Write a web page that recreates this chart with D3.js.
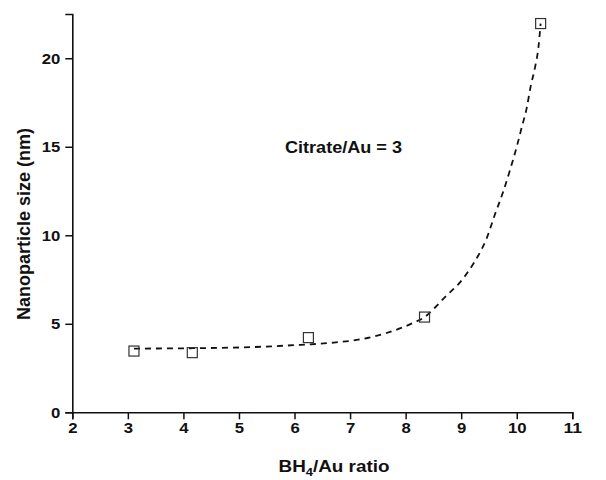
<!DOCTYPE html>
<html>
<head>
<meta charset="utf-8">
<script src="https://cdn.jsdelivr.net/npm/d3@7"></script>
<style>
  body { margin: 0; background: #fff; }
  text { font-family: "Liberation Sans", Arial, sans-serif; font-weight: bold; fill: #111; }
</style>
</head>
<body>
<script>
// measured points
var ratio = [3.11, 4.16, 6.25, 8.34, 10.43];
var size = [3.46, 3.37, 4.22, 5.38, 21.96];

// dashed fit curve
var fitX = [3.11, 4.16, 5.2, 5.98, 6.64, 7.18, 7.66, 8.17, 8.33, 8.53, 8.74, 8.97, 9.15, 9.31, 9.45,
            9.61, 9.76, 9.88, 10.0, 10.09, 10.18, 10.25, 10.33, 10.39, 10.43];
var fitY = [3.6, 3.62, 3.68, 3.79, 3.92, 4.12, 4.48, 5.1, 5.35, 5.92, 6.61, 7.31, 8.06, 8.87, 9.76,
            11.2, 12.5, 13.7, 15.0, 16.1, 17.2, 18.4, 19.5, 20.6, 21.96];

var xTicks = [2, 3, 4, 5, 6, 7, 8, 9, 10, 11];
var xMinor = [2.5, 3.5, 4.5, 5.5, 6.5, 7.5, 8.5, 9.5, 10.5];
var yTicks = [0, 5, 10, 15, 20];
var yMinor = [2.5, 7.5, 12.5, 17.5];

var svg = d3.select("body").append("svg")
    .attr("width", 606)
    .attr("height", 480);

var x = d3.scaleLinear().domain([2, 11]).range([72.3, 572.3]);
var y = d3.scaleLinear().domain([0, 22.5]).range([412.3, 14]);

// x axis
var gx = svg.append("g")
    .attr("transform", "translate(0," + y(0) + ")");
gx.call(d3.axisBottom(x).tickValues(xMinor).tickSize(4).tickFormat(""));
gx.call(d3.axisBottom(x).tickValues(xTicks).tickSize(7).tickPadding(3).tickFormat(d3.format("d")));
gx.selectAll("path.domain").attr("stroke-width", 1.6).attr("stroke", "#111");
gx.selectAll(".tick line").attr("stroke-width", 1.5).attr("stroke", "#111");
gx.selectAll(".tick text")
    .attr("font-size", 15)
    .attr("textLength", function(d) { return String(d).length * 9.3; })
    .attr("lengthAdjust", "spacingAndGlyphs");

// y axis
var gy = svg.append("g")
    .attr("transform", "translate(" + x(2) + ",0)");
gy.call(d3.axisLeft(y).tickValues(yMinor).tickSize(4).tickFormat(""));
gy.call(d3.axisLeft(y).tickValues(yTicks).tickSize(7).tickPadding(5).tickFormat(d3.format("d")));
gy.selectAll("path.domain").attr("stroke-width", 1.6).attr("stroke", "#111");
gy.selectAll(".tick line").attr("stroke-width", 1.5).attr("stroke", "#111");
gy.selectAll(".tick text")
    .attr("font-size", 15)
    .attr("textLength", function(d) { return String(d).length * 9.3; })
    .attr("lengthAdjust", "spacingAndGlyphs");
svg.selectAll(".domain").attr("fill", "none");

// fit curve
var line = d3.line()
    .x(function(d) { return x(fitX[d]); })
    .y(function(d) { return y(fitY[d]); })
    .curve(d3.curveMonotoneX);

svg.append("path")
    .attr("d", line(d3.range(fitX.length)))
    .attr("fill", "none")
    .attr("stroke", "#111")
    .attr("stroke-width", 1.8)
    .attr("stroke-dasharray", "6,5");

// square markers
svg.selectAll("rect.pt")
    .data(d3.range(ratio.length))
    .enter()
    .append("rect")
        .attr("class", "pt")
        .attr("x", function(d) { return x(ratio[d]) - 5; })
        .attr("y", function(d) { return y(size[d]) - 5; })
        .attr("width", 10)
        .attr("height", 10)
        .attr("fill", "none")
        .attr("stroke", "#333")
        .attr("stroke-width", 1.2);

// annotation
svg.append("text")
    .attr("x", 285)
    .attr("y", 153)
    .attr("font-size", 16)
    .attr("textLength", 117)
    .attr("lengthAdjust", "spacingAndGlyphs")
    .text("Citrate/Au = 3");

// x title with subscript
var xt = svg.append("text")
    .attr("transform", "translate(334,472) scale(1.18,1)")
    .attr("text-anchor", "middle")
    .attr("font-size", 16);
xt.append("tspan").text("BH");
xt.append("tspan").attr("font-size", 11).attr("dy", 4).text("4");
xt.append("tspan").attr("dy", -4).text("/Au ratio");

// y title
svg.append("text")
    .attr("transform", "translate(30,224) rotate(-90)")
    .attr("text-anchor", "middle")
    .attr("font-size", 18)
    .text("Nanoparticle size (nm)");
</script>
</body>
</html>
